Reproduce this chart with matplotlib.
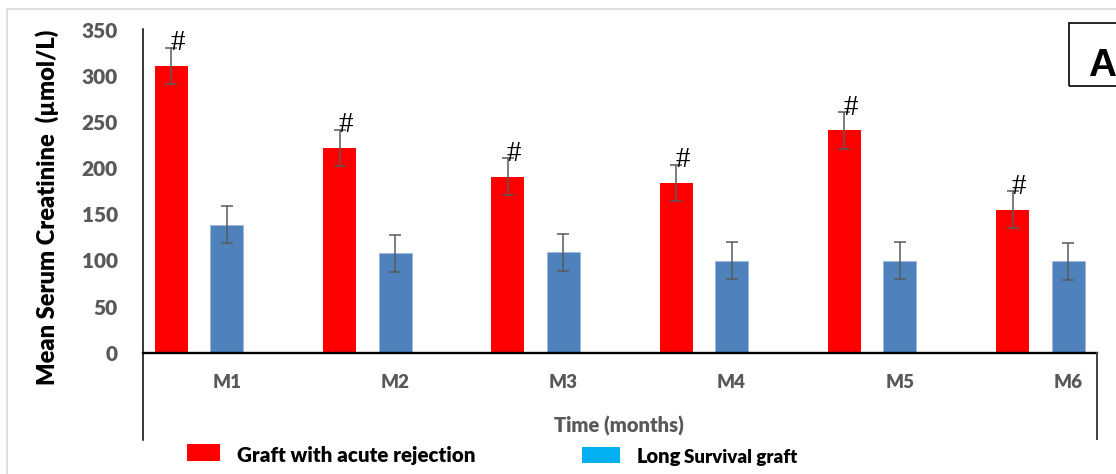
import numpy as np
import matplotlib
matplotlib.use("Agg")
import matplotlib.pyplot as plt
from matplotlib.patches import Rectangle
from matplotlib.lines import Line2D

# mean serum creatinine per month (umol/L) with error bars
months = ["M1", "M2", "M3", "M4", "M5", "M6"]
rejection = [311, 222, 191, 184, 241, 155]
rejection_err = [20, 20, 20, 20, 20, 20]
survival = [139, 108, 109, 100, 100, 99]
survival_err = [20, 20, 20, 20, 20, 20]

W, H = 1116, 474
plt.rcParams["font.family"] = ["Lato", "DejaVu Sans"]
HEAVY = 800

fig = plt.figure(figsize=(W / 100, H / 100), dpi=100)


def fx(x):
    return x / W


def fy(y):
    return 1 - y / H


def frect(x0, y0, x1, y1, **kw):
    r = Rectangle((fx(x0), fy(y1)), fx(x1) - fx(x0), fy(y0) - fy(y1),
                  transform=fig.transFigure, **kw)
    fig.add_artist(r)
    return r


# light outer frame
frect(7, 9, 1300, 600, fill=False, edgecolor="#d9d9d9", lw=1.2)

ax = fig.add_axes([fx(143), fy(352.7), (1097 - 143) / W, (352.7 - 30) / H])

idx = np.arange(len(months))
off = 0.165
bw = 0.196
red_x = idx - off
blue_x = idx + off

ax.bar(red_x, rejection, width=bw, color="#ff0000", zorder=2)
ax.bar(blue_x, survival, width=bw, color="#4f81bd", edgecolor="#9db6d6",
       linewidth=0.5, zorder=2)
ax.errorbar(red_x, rejection, yerr=rejection_err, fmt="none", ecolor="#595959",
            elinewidth=1.1, capsize=4, capthick=1.1, zorder=3)
ax.errorbar(blue_x, survival, yerr=survival_err, fmt="none", ecolor="#595959",
            elinewidth=1.1, capsize=4, capthick=1.1, zorder=3)

# significance marks over the rejection bars
for x, v, e in zip(red_x, rejection, rejection_err):
    ax.annotate("#", xy=(x, v + e), xytext=(4.5, -2), textcoords="offset points",
                ha="center", va="baseline", fontsize=21,
                family="Liberation Serif", color="black", zorder=4)

ax.set_xlim(-0.334, 5.337)
ax.set_ylim(0, 350)
ax.set_yticks(np.arange(0, 351, 50))
ax.set_xticks(blue_x)
ax.set_xticklabels(months)
ax.tick_params(axis="y", length=0, pad=18, labelsize=15, labelcolor="#595959")
ax.tick_params(axis="x", length=0, pad=15, labelsize=13.5, labelcolor="#595959")
for lab in ax.get_xticklabels() + ax.get_yticklabels():
    lab.set_fontweight(HEAVY)

for s in ["top", "right", "left"]:
    ax.spines[s].set_visible(False)
ax.spines["bottom"].set_linewidth(1.7)
ax.spines["bottom"].set_color("black")

# axis lines reaching into the category area
fig.add_artist(Line2D([fx(143), fx(143)], [fy(29), fy(440)], color="black", lw=1.1))
fig.add_artist(Line2D([fx(1097), fx(1097)], [fy(352.7), fy(439)], color="#404040", lw=1.4))

fig.text(fx(47), fy(207), "Mean Serum Creatinine  (µmol/L)", rotation=90,
         ha="center", va="center", fontsize=17, fontweight=HEAVY, color="black")
fig.text(fx(619), fy(425.5), "Time (months)", ha="center", va="center",
         fontsize=14.5, fontweight=HEAVY, color="#595959")

# legend
frect(187, 444, 220, 461, facecolor="#ff0000", edgecolor="none")
fig.text(fx(237), fy(462), "Graft with acute rejection", ha="left", va="baseline",
         fontsize=14.8, fontweight=HEAVY, color="black")
frect(582, 447, 620, 463, facecolor="#00b0f0", edgecolor="none")
fig.text(fx(637), fy(463), "Long", ha="left", va="baseline",
         fontsize=14.5, fontweight=HEAVY, color="black")
fig.text(fx(684), fy(463), "Survival graft", ha="left", va="baseline",
         fontsize=13.5, fontweight=HEAVY, color="black")

# panel letter
frect(1069, 23.3, 1200, 85.7, fill=False, edgecolor="black", lw=1.2)
fig.text(fx(1088), fy(76), "A", ha="left", va="baseline", fontsize=28,
         fontweight="bold", family="Liberation Sans", color="black")

fig.savefig("out.png", dpi=100)
